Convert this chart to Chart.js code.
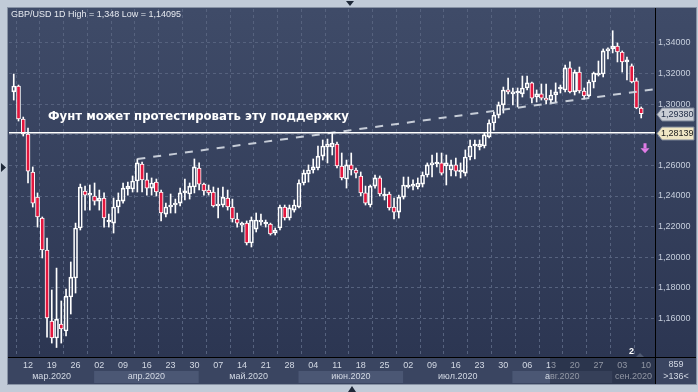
<!DOCTYPE html>
<html>
<head>
<meta charset="utf-8">
<script src="https://cdn.jsdelivr.net/npm/chart.js@4.4.1/dist/chart.umd.min.js"></script>
<style>
  html, body { margin: 0; padding: 0; background: #c1cbd8; }
  #wrap { position: relative; width: 698px; height: 392px; }
</style>
</head>
<body>
<div id="wrap"><canvas id="chart" width="698" height="392"></canvas></div>
<script>
// GBP/USD daily candles, 9 Mar 2020 .. 9 Sep 2020 (index = trading day)
const opens = [
  1.3080, 1.3119, 1.2903, 1.2805, 1.2557, 1.2393, 1.2256, 1.2047, 1.1583, 1.1472,
  1.1563, 1.1518, 1.1740, 1.1864, 1.2191, 1.2433, 1.2406, 1.2400, 1.2367, 1.2387,
  1.2230, 1.2223, 1.2328, 1.2367, 1.2446, 1.2446, 1.2498, 1.2609, 1.2505, 1.2452,
  1.2491, 1.2426, 1.2282, 1.2328, 1.2341, 1.2354, 1.2420, 1.2413, 1.2459, 1.2583,
  1.2478, 1.2439, 1.2426, 1.2335, 1.2341, 1.2387, 1.2328, 1.2250, 1.2210, 1.2223,
  1.2093, 1.2184, 1.2230, 1.2217, 1.2217, 1.2158, 1.2191, 1.2328, 1.2256, 1.2308,
  1.2328, 1.2485, 1.2544, 1.2570, 1.2583, 1.2661, 1.2720, 1.2720, 1.2740, 1.2596,
  1.2511, 1.2603, 1.2570, 1.2531, 1.2420, 1.2341, 1.2465, 1.2518, 1.2400, 1.2413,
  1.2328, 1.2295, 1.2393, 1.2459, 1.2465, 1.2459, 1.2478, 1.2537, 1.2603, 1.2609,
  1.2616, 1.2596, 1.2570, 1.2603, 1.2557, 1.2550, 1.2655, 1.2727, 1.2720, 1.2727,
  1.2786, 1.2877, 1.2929, 1.2995, 1.3093, 1.3067, 1.3073, 1.3067, 1.3106, 1.3139,
  1.3047, 1.3067, 1.3040, 1.3027, 1.3060, 1.3099, 1.3093, 1.3237, 1.3080, 1.3210,
  1.3086, 1.3054, 1.3145, 1.3191, 1.3197, 1.3348, 1.3361, 1.3380, 1.3341, 1.3276,
  1.3250, 1.3152, 1.2975
];
const highs = [
  1.3197, 1.3125, 1.2916, 1.2844, 1.2590, 1.2420, 1.2263, 1.2125, 1.1786, 1.1929,
  1.1714, 1.1792, 1.1969, 1.2223, 1.2478, 1.2465, 1.2472, 1.2485, 1.2439, 1.2420,
  1.2282, 1.2387, 1.2420, 1.2485, 1.2491, 1.2531, 1.2642, 1.2622, 1.2550, 1.2518,
  1.2511, 1.2439, 1.2354, 1.2413, 1.2380, 1.2452, 1.2511, 1.2485, 1.2642, 1.2616,
  1.2485, 1.2472, 1.2459, 1.2452, 1.2459, 1.2439, 1.2380, 1.2289, 1.2230, 1.2237,
  1.2263, 1.2289, 1.2282, 1.2243, 1.2223, 1.2191, 1.2341, 1.2341, 1.2341, 1.2374,
  1.2505, 1.2570, 1.2603, 1.2642, 1.2727, 1.2766, 1.2772, 1.2812, 1.2753, 1.2681,
  1.2635, 1.2681, 1.2583, 1.2557, 1.2465, 1.2472, 1.2537, 1.2531, 1.2452, 1.2426,
  1.2387, 1.2406, 1.2524, 1.2524, 1.2505, 1.2518, 1.2557, 1.2616, 1.2668, 1.2681,
  1.2681, 1.2668, 1.2635, 1.2648, 1.2616, 1.2701, 1.2766, 1.2766, 1.2766, 1.2812,
  1.2897, 1.2949, 1.3014, 1.3112, 1.3171, 1.3106, 1.3106, 1.3184, 1.3184, 1.3145,
  1.3093, 1.3132, 1.3132, 1.3093, 1.3139, 1.3125, 1.3256, 1.3276, 1.3224, 1.3243,
  1.3106, 1.3158, 1.3210, 1.3282, 1.3361, 1.3368, 1.3480, 1.3400, 1.3348, 1.3308,
  1.3263, 1.3171, 1.2982
];
const lows = [
  1.3027, 1.2890, 1.2792, 1.2485, 1.2328, 1.2197, 1.1995, 1.1478, 1.1439, 1.1410,
  1.1439, 1.1485, 1.1629, 1.1766, 1.2178, 1.2308, 1.2308, 1.2341, 1.2308, 1.2197,
  1.2197, 1.2158, 1.2289, 1.2354, 1.2406, 1.2426, 1.2426, 1.2426, 1.2406, 1.2406,
  1.2400, 1.2237, 1.2263, 1.2289, 1.2289, 1.2335, 1.2374, 1.2380, 1.2420, 1.2439,
  1.2406, 1.2406, 1.2328, 1.2256, 1.2328, 1.2308, 1.2230, 1.2197, 1.2165, 1.2080,
  1.2067, 1.2165, 1.2210, 1.2197, 1.2145, 1.2145, 1.2178, 1.2243, 1.2243, 1.2295,
  1.2322, 1.2472, 1.2491, 1.2550, 1.2570, 1.2635, 1.2616, 1.2668, 1.2583, 1.2505,
  1.2452, 1.2537, 1.2518, 1.2400, 1.2341, 1.2328, 1.2452, 1.2400, 1.2374, 1.2308,
  1.2250, 1.2256, 1.2380, 1.2452, 1.2439, 1.2446, 1.2459, 1.2524, 1.2524, 1.2590,
  1.2537, 1.2472, 1.2531, 1.2531, 1.2518, 1.2531, 1.2635, 1.2642, 1.2701, 1.2714,
  1.2779, 1.2831, 1.2910, 1.2942, 1.3067, 1.2995, 1.2982, 1.3047, 1.3093, 1.3008,
  1.3014, 1.3027, 1.3001, 1.3008, 1.3014, 1.3073, 1.3080, 1.3073, 1.3060, 1.3073,
  1.3034, 1.3047, 1.3106, 1.3184, 1.3178, 1.3295, 1.3335, 1.3276, 1.3210, 1.3158,
  1.3139, 1.2970, 1.2910
];
const closes = [
  1.3119, 1.2903, 1.2805, 1.2563, 1.2354, 1.2263, 1.2047, 1.1603, 1.1472, 1.1596,
  1.1531, 1.1746, 1.1870, 1.2191, 1.2459, 1.2406, 1.2413, 1.2367, 1.2387, 1.2256,
  1.2237, 1.2328, 1.2374, 1.2452, 1.2465, 1.2498, 1.2616, 1.2505, 1.2452, 1.2485,
  1.2426, 1.2289, 1.2328, 1.2341, 1.2354, 1.2420, 1.2426, 1.2465, 1.2590, 1.2478,
  1.2433, 1.2420, 1.2335, 1.2348, 1.2393, 1.2328, 1.2250, 1.2223, 1.2223, 1.2093,
  1.2243, 1.2243, 1.2243, 1.2223, 1.2152, 1.2178, 1.2328, 1.2256, 1.2322, 1.2341,
  1.2485, 1.2550, 1.2570, 1.2590, 1.2661, 1.2727, 1.2740, 1.2746, 1.2596, 1.2518,
  1.2603, 1.2570, 1.2550, 1.2420, 1.2354, 1.2465, 1.2518, 1.2413, 1.2406, 1.2322,
  1.2295, 1.2393, 1.2472, 1.2472, 1.2472, 1.2485, 1.2537, 1.2603, 1.2616, 1.2616,
  1.2550, 1.2616, 1.2603, 1.2563, 1.2570, 1.2655, 1.2727, 1.2733, 1.2740, 1.2799,
  1.2877, 1.2929, 1.2995, 1.3093, 1.3080, 1.3080, 1.3080, 1.3106, 1.3139, 1.3040,
  1.3067, 1.3040, 1.3027, 1.3060, 1.3080, 1.3106, 1.3237, 1.3080, 1.3210, 1.3086,
  1.3054, 1.3145, 1.3204, 1.3204, 1.3348, 1.3361, 1.3380, 1.3341, 1.3276, 1.3282,
  1.3145, 1.2975, 1.2938
];

// weekly axis labels (Thursdays) and months
const tickIdx = [3, 8, 13, 18, 23, 28, 33, 38, 43, 48, 53, 58, 63, 68, 73, 78, 83, 88, 93, 98, 103, 108, 113, 118, 123, 128, 133];
const tickLabels = ['12', '19', '26', '02', '09', '16', '23', '30', '07', '14', '21', '28', '04', '11', '18', '25', '02', '09', '16', '23', '30', '06', '13', '20', '27', '03', '10'];
const months = ['мар.2020', 'апр.2020', 'май.2020', 'июн.2020', 'июл.2020', 'авг.2020', 'сен.2020'];
const monthStart = [-1, 16.9, 38.9, 59.9, 81.9, 104.9, 125.9];
const priceTicks = [1.16, 1.18, 1.20, 1.22, 1.24, 1.26, 1.28, 1.30, 1.32, 1.34];

const supportLevel = 1.28139;
const lastPrice = 1.2938;
const trendX = [26, 134.9];
const trendY = [1.2642, 1.3098];

const fmt = v => v.toFixed(5).replace('.', ',');
const idx = opens.map((_, i) => i);
const bodies = idx.map(i => ({ x: i, y: [opens[i], closes[i]] }));
const upperWicks = idx.map(i => ({ x: i, y: [Math.max(opens[i], closes[i]), highs[i]] }));
const lowerWicks = idx.map(i => ({ x: i, y: [lows[i], Math.min(opens[i], closes[i])] }));
const bodyFill = idx.map(i => (closes[i] < opens[i] ? '#e3163e' : 'rgba(0,0,0,0)'));

const backdrop = {
  id: 'backdrop',
  beforeDraw(chart) {
    const { ctx, chartArea: a } = chart;
    const xs = chart.scales.x;
    ctx.save();
    ctx.fillStyle = '#c1cbd8';
    ctx.fillRect(0, 0, chart.width, chart.height);
    const g = ctx.createLinearGradient(0, a.top, 0, a.bottom);
    g.addColorStop(0, '#3f4b68');
    g.addColorStop(1, '#2c3652');
    ctx.fillStyle = g;
    ctx.fillRect(8, 8, 688, a.bottom - 8);
    ctx.fillStyle = '#3a4561';
    ctx.fillRect(8, a.bottom, 688, 384 - a.bottom);
    months.forEach((m, k) => {
      if (k % 2 === 0) return;
      const x0 = xs.getPixelForValue(monthStart[k]);
      const x1 = k === months.length - 1 ? a.right : xs.getPixelForValue(monthStart[k + 1]);
      ctx.fillStyle = '#4b5774';
      ctx.fillRect(x0, a.bottom + 14, x1 - x0, 12);
    });
    ctx.restore();
  }
};

const decor = {
  id: 'decor',
  afterDraw(chart) {
    const { ctx, chartArea: a } = chart;
    const xs = chart.scales.x, ys = chart.scales.y;
    ctx.save();

    // month names
    ctx.font = '9px "Liberation Sans"';
    ctx.fillStyle = '#d3d9e4';
    ctx.textAlign = 'center';
    ctx.textBaseline = 'middle';
    months.forEach((m, k) => {
      const x0 = Math.max(a.left, xs.getPixelForValue(monthStart[k]));
      const x1 = k === months.length - 1 ? a.right : xs.getPixelForValue(monthStart[k + 1]);
      ctx.fillText(m, (x0 + x1) / 2, a.bottom + 20);
    });

    // dimmed scroll window on time axis
    ctx.fillStyle = 'rgba(18,24,40,0.35)';
    ctx.fillRect(550, a.bottom + 1, a.right - 550, 26);

    // frame lines
    ctx.strokeStyle = '#000';
    ctx.lineWidth = 1;
    ctx.beginPath();
    ctx.moveTo(a.right + 0.5, 8); ctx.lineTo(a.right + 0.5, 384);
    ctx.moveTo(8, a.bottom + 0.5); ctx.lineTo(696, a.bottom + 0.5);
    ctx.stroke();
    ctx.strokeStyle = '#8893a5';
    ctx.strokeRect(7.5, 7.5, 689, 377);

    // corner box
    ctx.fillStyle = '#d3d9e4';
    ctx.font = '9px "Liberation Sans"';
    ctx.fillText('859', 676, a.bottom + 8);
    ctx.fillText('>136<', 676, a.bottom + 20);

    // price tags
    const tag = (v, fill, txt) => {
      const y = Math.round(ys.getPixelForValue(v)) + 0.5;
      ctx.beginPath();
      ctx.moveTo(a.right + 2, y);
      ctx.lineTo(a.right + 7, y - 6.5);
      ctx.lineTo(694, y - 6.5);
      ctx.lineTo(694, y + 6.5);
      ctx.lineTo(a.right + 7, y + 6.5);
      ctx.closePath();
      ctx.fillStyle = fill;
      ctx.fill();
      ctx.strokeStyle = '#7b8496';
      ctx.stroke();
      ctx.fillStyle = txt;
      ctx.textAlign = 'left';
      ctx.fillText(fmt(v), a.right + 6, y);
    };
    tag(lastPrice, '#c9cdd5', '#24304a');
    tag(supportLevel, '#efe6c4', '#202020');

    // sell arrow
    const ax = xs.getPixelForValue(132.8), ay = ys.getPixelForValue(1.2712);
    ctx.fillStyle = '#e07ce6';
    ctx.fillRect(ax - 1.5, ay - 5, 3, 5);
    ctx.beginPath();
    ctx.moveTo(ax - 4.5, ay); ctx.lineTo(ax + 4.5, ay); ctx.lineTo(ax, ay + 5);
    ctx.closePath();
    ctx.fill();

    // titles
    ctx.textAlign = 'left';
    ctx.fillStyle = '#e6e9ef';
    ctx.font = '9px "Liberation Sans"';
    ctx.fillText('GBP/USD 1D High = 1,348 Low = 1,14095', 11, 15);
    ctx.fillStyle = '#ffffff';
    ctx.font = 'bold 11.7px "DejaVu Sans"';
    ctx.fillText('Фунт может протестировать эту поддержку', 48, 117);

    ctx.fillStyle = '#ffffff';
    ctx.font = 'bold 9px "Liberation Sans"';
    ctx.fillText('2', 629, a.bottom - 5);
    ctx.fillStyle = '#4f5a73';
    ctx.beginPath();
    ctx.moveTo(636, a.bottom); ctx.lineTo(640, a.bottom - 4); ctx.lineTo(644, a.bottom);
    ctx.fill();

    // frame arrows
    ctx.fillStyle = '#1e2838';
    ctx.beginPath();
    ctx.moveTo(346, 1); ctx.lineTo(354, 1); ctx.lineTo(350, 6); ctx.closePath();
    ctx.moveTo(1, 163); ctx.lineTo(6, 167.5); ctx.lineTo(1, 172); ctx.closePath();
    ctx.moveTo(348, 392); ctx.lineTo(356, 392); ctx.lineTo(352, 386); ctx.closePath();
    ctx.fill();
    ctx.restore();
  }
};

new Chart(document.getElementById('chart'), {
  type: 'bar',
  data: {
    datasets: [
      { data: upperWicks, backgroundColor: '#ffffff', barThickness: 1, grouped: false, order: 5 },
      { data: lowerWicks, backgroundColor: '#ffffff', barThickness: 1, grouped: false, order: 5 },
      {
        data: bodies, backgroundColor: bodyFill, borderColor: '#ffffff', borderWidth: 1,
        borderSkipped: false, barThickness: 4, minBarLength: 2, grouped: false, order: 4
      },
      {
        type: 'line', data: [{ x: -1, y: supportLevel }, { x: 134.9, y: supportLevel }],
        borderColor: '#ffffff', borderWidth: 1.5, pointRadius: 0, order: 1
      },
      {
        type: 'line', data: trendX.map((x, k) => ({ x, y: trendY[k] })),
        borderColor: 'rgba(214,219,228,0.9)', borderWidth: 2, borderDash: [8, 8], pointRadius: 0, order: 2
      }
    ]
  },
  options: {
    responsive: false,
    animation: false,
    devicePixelRatio: 1,
    layout: { padding: { left: 9, top: 9, right: 2, bottom: 8 } },
    plugins: { legend: { display: false }, tooltip: { enabled: false } },
    scales: {
      x: {
        type: 'linear', min: -1, max: 134.9, offset: false,
        afterBuildTicks: s => { s.ticks = tickIdx.map(v => ({ value: v })); },
        afterFit: s => { s.height = 27; },
        ticks: {
          autoSkip: false, maxRotation: 0, padding: 3, color: '#d3d9e4',
          font: { family: 'Liberation Sans', size: 9 },
          callback: v => tickLabels[tickIdx.indexOf(v)]
        },
        grid: { color: '#56627e', drawTicks: false },
        border: { display: false, dash: [3, 3] }
      },
      y: {
        position: 'right', min: 1.1348, max: 1.3622,
        afterBuildTicks: s => { s.ticks = priceTicks.map(v => ({ value: v })); },
        afterFit: s => { s.width = 41; },
        ticks: {
          padding: 3, color: '#c6cedc',
          font: { family: 'Liberation Sans', size: 9 },
          callback: v => fmt(v)
        },
        grid: { color: '#56627e', drawTicks: false },
        border: { display: false, dash: [3, 3] }
      }
    }
  },
  plugins: [backdrop, decor]
});
</script>
</body>
</html>
